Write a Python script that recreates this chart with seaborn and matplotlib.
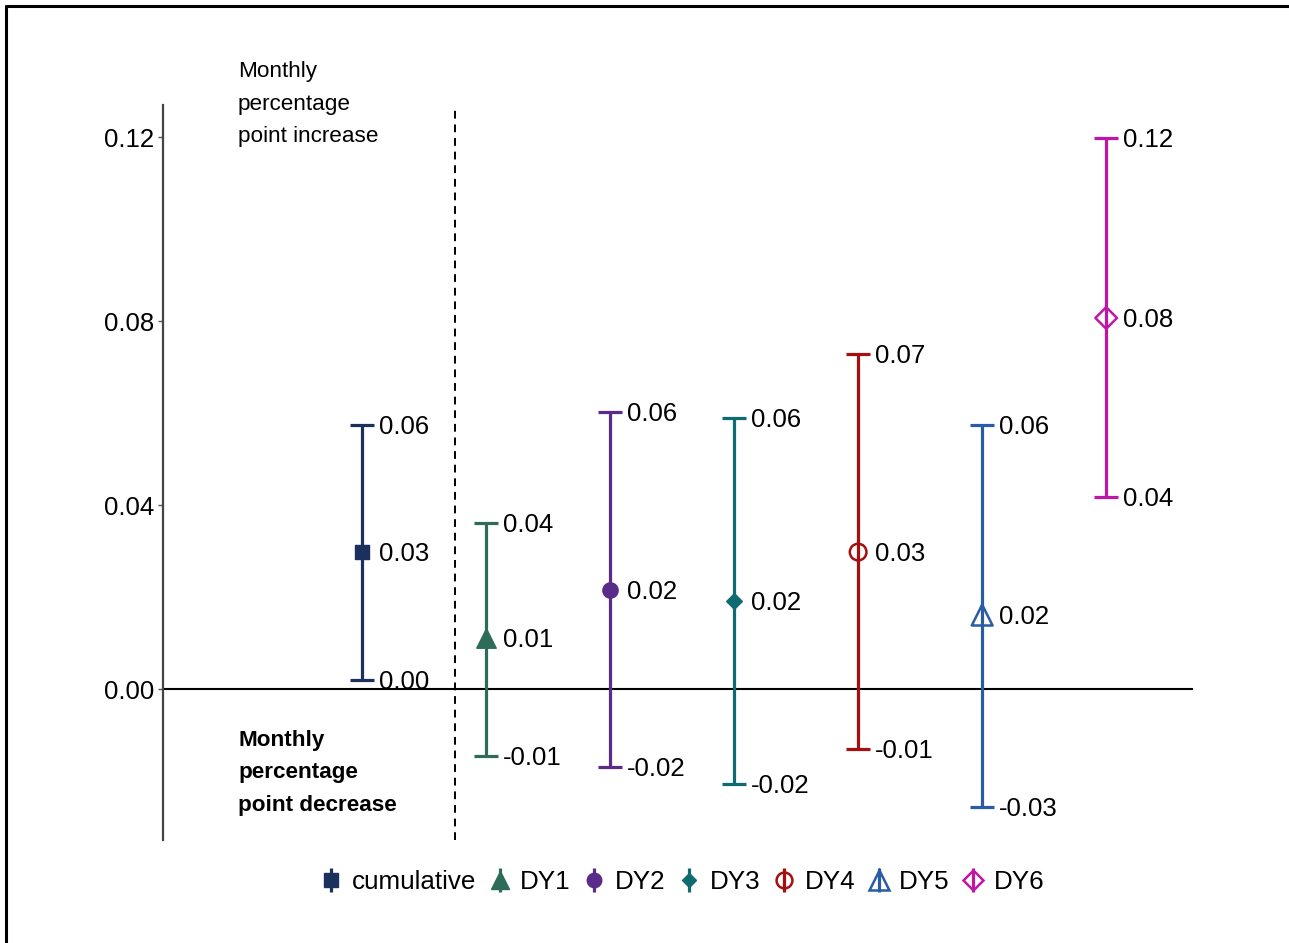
import matplotlib
matplotlib.use("Agg")
import matplotlib.pyplot as plt
import seaborn as sns
import pandas as pd
import numpy as np
from matplotlib.lines import Line2D
from matplotlib.legend_handler import HandlerTuple

# ---- data ----
groups = ["cumulative", "DY1", "DY2", "DY3", "DY4", "DY5", "DY6"]
estimate = [0.0298, 0.0111, 0.0215, 0.0191, 0.0298, 0.0161, 0.0807]
upper = [0.0574, 0.0361, 0.0602, 0.0589, 0.0728, 0.0574, 0.1198]
lower = [0.0020, -0.0146, -0.0170, -0.0207, -0.0130, -0.0257, 0.0417]
yticks = [0.00, 0.04, 0.08, 0.12]
top_note = "Monthly\npercentage\npoint increase"
bottom_note = "Monthly\npercentage\npoint decrease"

colors = ["#1c305e", "#2e6b58", "#5a2b88", "#0e6b72", "#a50f0f", "#2a5ca6", "#bf17a5"]
markers = ["s", "^", "o", "D", "o", "^", "D"]
filled = [True, True, True, True, False, False, False]
msizes = [10, 14, 11, 8, 12, 15, 11]

df = pd.DataFrame({"group": groups, "estimate": estimate, "upper": upper, "lower": lower})
df["pos"] = np.arange(1, len(groups) + 1)

sns.set_theme(style="white")
plt.rcParams["font.family"] = ["Liberation Sans", "DejaVu Sans"]
plt.rcParams["text.color"] = "black"

fig = plt.figure(figsize=(12.89, 9.43), dpi=100)
ax = fig.add_axes([163 / 1289, 1 - 840 / 943, (1193 - 163) / 1289, (840 - 105) / 943])

# error bars
for i, r in df.iterrows():
    ax.errorbar(r["pos"], r["estimate"],
                yerr=[[r["estimate"] - r["lower"]], [r["upper"] - r["estimate"]]],
                fmt="none", ecolor=colors[i], elinewidth=2.3, capsize=8.5, capthick=2.3, zorder=2)

# points via seaborn
for i, r in df.iterrows():
    sub = df.iloc[[i]]
    if filled[i]:
        sns.scatterplot(data=sub, x="pos", y="estimate", color=colors[i], marker=markers[i],
                        s=msizes[i] ** 2, edgecolor=colors[i], linewidth=1, ax=ax, zorder=3, legend=False)
    else:
        sns.scatterplot(data=sub, x="pos", y="estimate", marker=markers[i],
                        s=msizes[i] ** 2, facecolor="none", edgecolor=colors[i], linewidth=1.8,
                        ax=ax, zorder=3, legend=False)

# value labels
for i, r in df.iterrows():
    for v in (r["estimate"], r["upper"], r["lower"]):
        ax.annotate(f"{v:.2f}", (r["pos"], v), xytext=(12, -1.3), textcoords="offset points",
                    ha="left", va="center", fontsize=18.5, color="black", zorder=4)

ax.axhline(0, color="black", lw=1.5, zorder=1)
ax.axvline(1.75, color="black", lw=1.4, ls=(0, (4, 3)), zorder=1)

ax.text(0, 0.1272, top_note, ha="left", va="center", fontsize=16.2, linespacing=1.72, color="black")
ax.text(0, -0.0182, bottom_note, ha="left", va="center", fontsize=16.2, fontweight="bold",
        linespacing=1.72, color="black")

ax.set_xlim(-0.605, 7.70)
ax.set_ylim(-0.0328, 0.127)
ax.set_yticks(yticks)
ax.set_yticklabels([f"{t:.2f}" for t in yticks])
ax.set_xticks([])
ax.set_xlabel("")
ax.set_ylabel("")
for s in ["top", "right", "bottom"]:
    ax.spines[s].set_visible(False)
ax.spines["left"].set_color("#444444")
ax.spines["left"].set_linewidth(1.6)
ax.tick_params(axis="y", which="both", left=True, length=3.5, width=1, color="#555555",
               labelsize=18.5, pad=3, labelcolor="black")

# legend
handles = []
for i in range(len(groups)):
    bar = Line2D([], [], color=colors[i], marker="|", markersize=17, markeredgewidth=2.3, linestyle="none")
    if filled[i]:
        m = Line2D([], [], color=colors[i], marker=markers[i], markersize=msizes[i] * 0.95,
                   markerfacecolor=colors[i], markeredgecolor=colors[i], linestyle="none")
    else:
        m = Line2D([], [], color=colors[i], marker=markers[i], markersize=msizes[i] * 0.95,
                   markerfacecolor="none", markeredgecolor=colors[i], markeredgewidth=1.8, linestyle="none")
    handles.append((bar, m))
leg = ax.legend(handles, groups, handler_map={tuple: HandlerTuple(ndivide=1)}, loc="center",
                bbox_to_anchor=(682 / 1289, 1 - 882 / 943), bbox_transform=fig.transFigure, ncol=7,
                frameon=False, fontsize=18.7, handlelength=0.9, handletextpad=0.35, columnspacing=0.45,
                borderaxespad=0)
for t in leg.get_texts():
    t.set_color("black")

# figure border (left and top)
fig.add_artist(Line2D([6 / 1289, 6 / 1289], [0, 1 - 6 / 943], transform=fig.transFigure, color="black", lw=2.2))
fig.add_artist(Line2D([6 / 1289, 1], [1 - 6 / 943, 1 - 6 / 943], transform=fig.transFigure, color="black", lw=2.2))

fig.savefig("out.png", dpi=100)
